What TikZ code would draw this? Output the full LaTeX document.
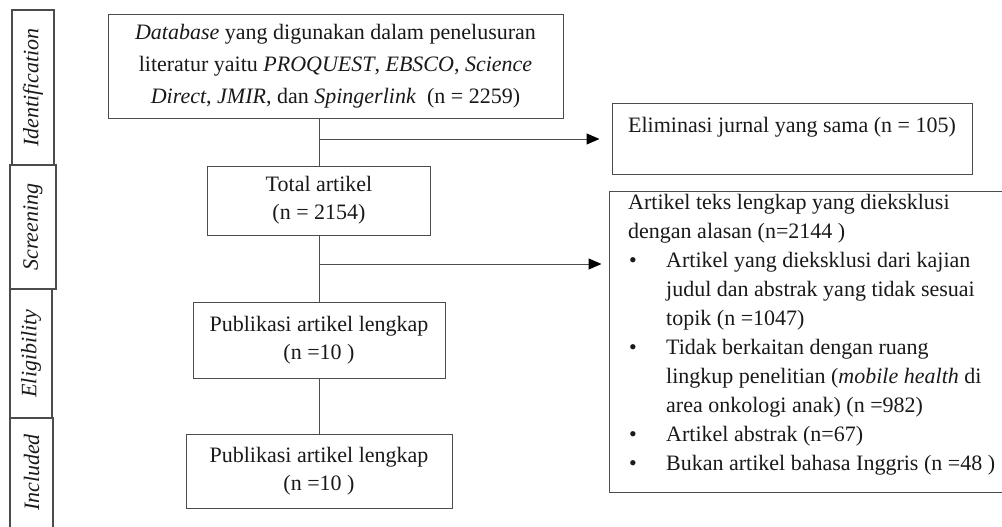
\documentclass[tikz,border=0pt]{standalone}
\usepackage{fontspec}
\setmainfont{Liberation Serif}
\usetikzlibrary{arrows.meta}
\definecolor{linec}{gray}{0.3}
\definecolor{txt}{gray}{0.1}
\begin{document}
\begin{tikzpicture}[x=1pt,y=-1pt,
  box/.style={draw=linec, line width=1pt, inner sep=0pt, align=center,
    font=\fontsize{22}{28}\selectfont, text=txt},
  phase/.style={draw=linec, line width=1.2pt, rotate=90, inner sep=0pt,
    font=\fontsize{22}{28}\selectfont\itshape, text=txt},
  conn/.style={draw=linec, line width=1pt},
  arr/.style={conn, -{Triangle[length=13pt,width=11pt,color=black]}}
]
\useasboundingbox (0,0) rectangle (1002,527);

% phase labels
\node[phase, minimum width=155pt, minimum height=42pt] (idf) at (33,87.5) {Identification};
\node[phase, minimum width=124pt, minimum height=46pt] (scr) at (33,227) {Screening};
\node[phase, minimum width=129pt, minimum height=42pt] (eli) at (31,353.5) {Eligibility};
\node[phase, draw=none, minimum width=109pt, minimum height=43pt] (inc) at (31.5,472.5) {Included};
\draw[draw=linec, line width=1.2pt] (10,527) -- (10,418) -- (53,418) -- (53,527);

% main column
\node[box, font=\fontsize{22}{32}\selectfont, minimum width=455pt, minimum height=103pt] (top) at (335.5,66.5)
  {\textit{Database} yang digunakan dalam penelusuran\\
   literatur yaitu \textit{PROQUEST}, \textit{EBSCO}, \textit{Science}\\
   \textit{Direct}, \textit{JMIR}, dan \textit{Spingerlink}\ \ (n = 2259)};
\node[box, minimum width=223pt, minimum height=69pt] (tot) at (319,200.5)
  {Total artikel\\(n = 2154)};
\node[box, minimum width=252pt, minimum height=76pt] (pub1) at (319,340)
  {Publikasi artikel lengkap\\(n =10 )};
\node[box, minimum width=266pt, minimum height=74pt] (pub2) at (319,471)
  {Publikasi artikel lengkap\\(n =10 )};

% right column
\node[box, minimum width=360pt, minimum height=70pt] (elim) at (792,139)
  {Eliminasi jurnal yang sama (n = 105)\\\mbox{}};
\node[box, draw=none, minimum width=392pt, minimum height=300pt] (exc) at (806,342) {};
\draw[conn] (exc.north east) -- (exc.north west) -- (exc.south west) -- (exc.south east);
\node[anchor=north west, inner sep=0pt, align=left, text=txt,
  font=\fontsize{22}{29}\selectfont] (exct) at (628,194)
  {Artikel teks lengkap yang dieksklusi\\
   dengan alasan (n=2144 )\\
   \makebox[38pt][l]{\hspace{1pt}•}Artikel yang dieksklusi dari kajian\\
   \hspace*{38pt}judul dan abstrak yang tidak sesuai\\
   \hspace*{38pt}topik (n =1047)\\
   \makebox[38pt][l]{\hspace{1pt}•}Tidak berkaitan dengan ruang\\
   \hspace*{38pt}lingkup penelitian (\textit{mobile health} di\\
   \hspace*{38pt}area onkologi anak) (n =982)\\
   \makebox[38pt][l]{\hspace{1pt}•}Artikel abstrak (n=67)\\
   \makebox[38pt][l]{\hspace{1pt}•}Bukan artikel bahasa Inggris (n =48 )};

% connectors
\draw[conn] (tot.north |- top.south) -- (tot.north);
\draw[arr, shorten >=12pt] (tot.north |- elim.west) -- (elim.west);
\coordinate (b2) at (319,264);
\draw[conn] (tot.south) -- (pub1.north);
\draw[arr, shorten >=8pt] (b2) -- (b2 -| exc.west);
\draw[conn] (pub1.south) -- (pub2.north);
\end{tikzpicture}
\end{document}
